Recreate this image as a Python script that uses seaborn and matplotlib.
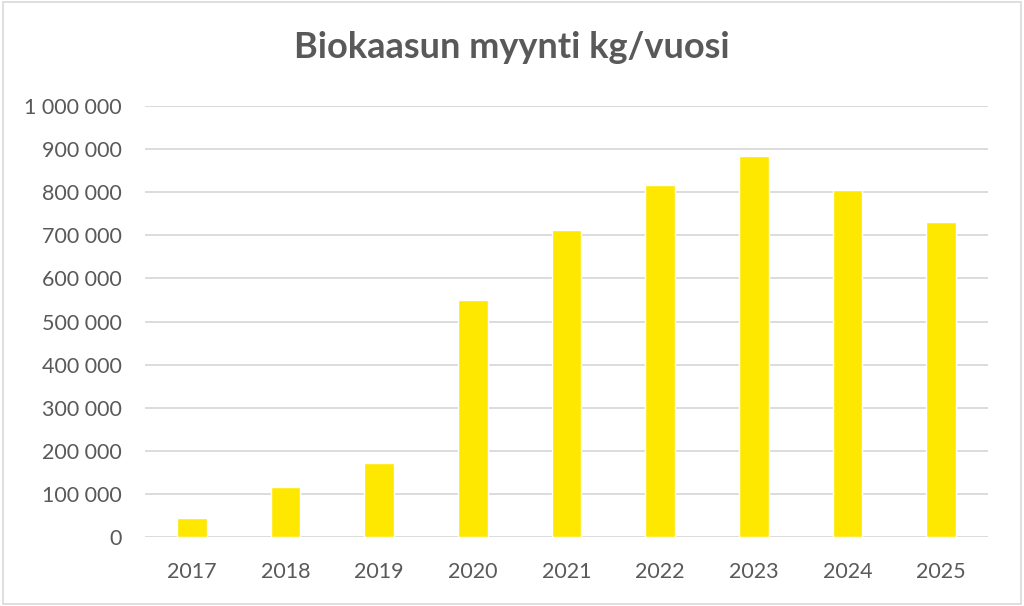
import pandas as pd
import seaborn as sns
import matplotlib.pyplot as plt
from matplotlib.ticker import FuncFormatter

years = ['2017', '2018', '2019', '2020', '2021', '2022', '2023', '2024', '2025']
sales_kg = [44000, 116000, 171000, 551000, 712000, 817000, 884000, 806000, 731000]

df = pd.DataFrame({'vuosi': years, 'kg': sales_kg})

sns.set_theme(style='white')
plt.rcParams['font.family'] = ['Lato', 'DejaVu Sans']

fig = plt.figure(figsize=(10.24, 6.06), dpi=100)
ax = fig.add_axes([145 / 1024, 1 - 537 / 606, (988 - 145) / 1024, (537 - 106) / 606])

sns.barplot(data=df, x='vuosi', y='kg', color='#FFE800', width=0.32,
            saturation=1, ax=ax, zorder=3)

ax.set_ylim(0, 1000000)
ax.set_xlim(-0.5, 8.5)
ax.set_yticks(range(0, 1000001, 100000))
ax.yaxis.set_major_formatter(FuncFormatter(lambda v, p: f'{int(v):,}'.replace(',', ' ')))
ax.grid(axis='y', color='#d9d9d9', linewidth=1.3, zorder=0)
ax.set_axisbelow(True)
for s in ax.spines.values():
    s.set_visible(False)
ax.tick_params(axis='both', length=0, labelsize=15.5, colors='#595959')
ax.tick_params(axis='y', pad=17)
ax.tick_params(axis='x', pad=18)
ax.set_xlabel('')
ax.set_ylabel('')

fig.text(0.5, 1 - 48 / 606, 'Biokaasun myynti kg/vuosi', ha='center', va='center',
         fontsize=26, fontweight='bold', color='#595959')

# thin frame around the whole chart area
fig.patches.append(plt.Rectangle((0.003, 0.003), 0.994, 0.994, transform=fig.transFigure,
                                 fill=False, edgecolor='#d9d9d9', linewidth=1.2))

fig.savefig('out.png', dpi=100, facecolor='white')
